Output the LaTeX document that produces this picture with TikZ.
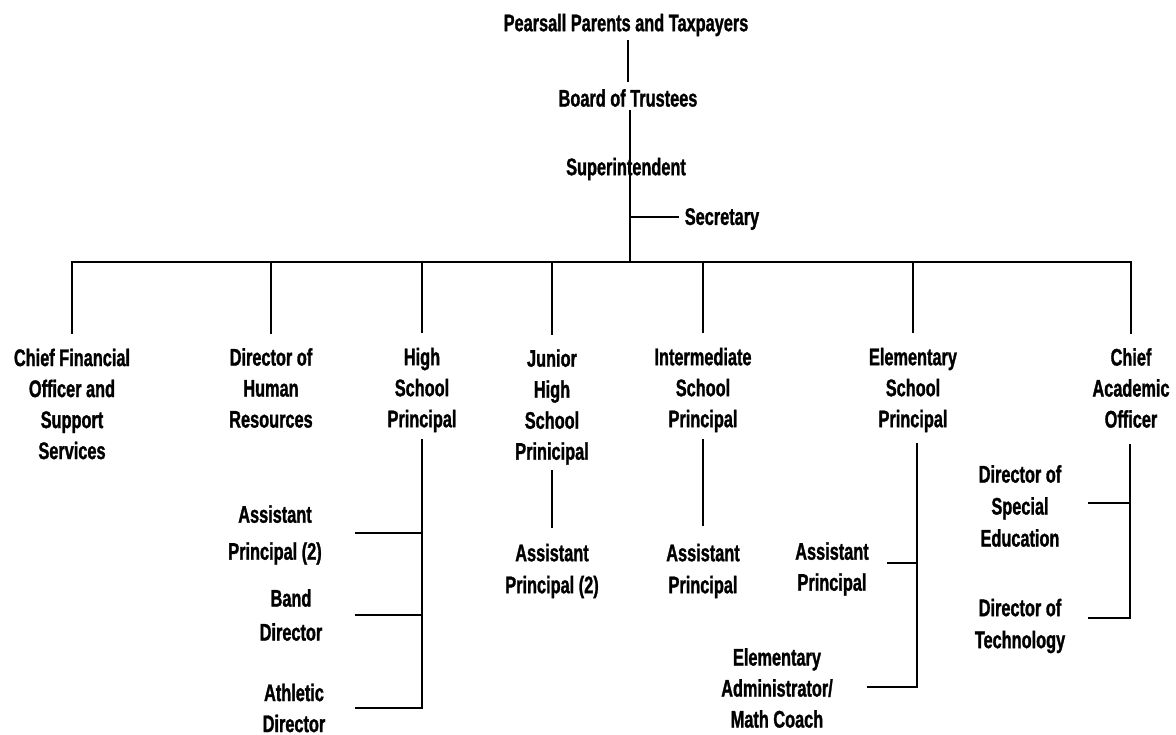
\documentclass[tikz,border=0pt]{standalone}
\usepackage{fontspec}
\newfontfamily\lab{Liberation Sans}[FakeStretch=0.68,FakeBold=1.2]
\begin{document}
\begin{tikzpicture}[x=1pt,y=-1pt,
  lbl/.style={inner sep=2pt, align=center, font=\lab\bfseries\fontsize{24}{31}\selectfont},
  ln/.style={line width=1.4pt, line cap=rect}]
\useasboundingbox (0,0) rectangle (1176,735);
% top chain
\node[lbl] (pp) at (626,25) {Pearsall Parents and Taxpayers};
\node[lbl] (bt) at (628,98) {Board of Trustees};
\node[lbl] (su) at (626,169) {Superintendent};
\node[lbl] (se) at (722,219) {Secretary};
\coordinate (busc) at (630,262);
\coordinate (busl) at (72,262);
\coordinate (busr) at (1131,262);
\coordinate (secj) at (630,217);
% first row
\node[lbl] (cfo) at (72,404) {Chief Financial\\Officer and\\Support\\Services};
\node[lbl] (hr) at (271,388) {Director of\\Human\\Resources};
\node[lbl] (hs) at (422,390) {High\\School\\Principal};
\node[lbl] (jh) at (552,407) {Junior\\High\\School\\Prinicipal};
\node[lbl] (im) at (703,390) {Intermediate\\School\\Principal};
\node[lbl] (el) at (913,390) {Elementary\\School\\Principal};
\node[lbl] (ca) at (1131,388) {Chief\\Academic\\Officer};
% second level
\node[lbl, font=\lab\bfseries\fontsize{24}{37}\selectfont] (hsap) at (275,535) {Assistant\\Principal (2)};
\node[lbl, font=\lab\bfseries\fontsize{24}{34}\selectfont] (hsbd) at (291,615) {Band\\Director};
\node[lbl] (hsad) at (294,708) {Athletic\\Director};
\node[lbl, font=\lab\bfseries\fontsize{24}{32}\selectfont] (jhap) at (552,571) {Assistant\\Principal (2)};
\node[lbl, font=\lab\bfseries\fontsize{24}{32}\selectfont] (imap) at (703,571) {Assistant\\Principal};
\node[lbl] (elap) at (832,569) {Assistant\\Principal};
\node[lbl] (elad) at (777,688) {Elementary\\Administrator/\\Math Coach};
\node[lbl, font=\lab\bfseries\fontsize{24}{32}\selectfont] (dse) at (1020,506) {Director of\\Special\\Education};
\node[lbl, font=\lab\bfseries\fontsize{24}{32}\selectfont] (dt) at (1020,626) {Director of\\Technology};
% junction coordinates
\coordinate (hsv) at (422,708);
\coordinate (hsj1) at (422,533);
\coordinate (hsj2) at (422,615);
\coordinate (hse1) at (356,533);
\coordinate (hse2) at (356,615);
\coordinate (hse3) at (356,708);
\coordinate (elv) at (917,444);
\coordinate (elj1) at (917,563);
\coordinate (elj2) at (917,687);
\coordinate (ele1) at (888,563);
\coordinate (ele2) at (868,687);
\coordinate (cav) at (1130,445);
\coordinate (caj1) at (1130,503);
\coordinate (caj2) at (1130,618);
\coordinate (cae1) at (1089,503);
\coordinate (cae2) at (1089,618);
% connectors
\draw[ln] ([yshift=-2pt]pp.south -| bt.north) -- ([yshift=6pt]bt.north);
\draw[ln] ([yshift=-2pt]bt.south -| busc) -- (busc);
\draw[ln] (secj) -- ([xshift=-4pt]se.west |- secj);
\draw[ln] (busl) -- (busr);
\foreach \n in {cfo,hr,hs,jh,im,el,ca}
  \draw[ln] (\n.north |- busc) -- ([yshift=13pt]\n.north);
% high school
\draw[ln] ([yshift=-5pt]hs.south) -- (hsv);
\draw[ln] (hsj1) -- (hse1);
\draw[ln] (hsj2) -- (hse2);
\draw[ln] (hsv) -- (hse3);
% junior high
\draw[ln] ([yshift=-4pt]jh.south) -- ([yshift=14pt]jhap.north);
% intermediate
\draw[ln] ([yshift=-5pt]im.south) -- ([yshift=16pt]imap.north);
% elementary
\draw[ln] (elv) -- (elj2);
\draw[ln] (elj1) -- (ele1);
\draw[ln] (elj2) -- (ele2);
% chief academic
\draw[ln] (cav) -- (caj2);
\draw[ln] (caj1) -- (cae1);
\draw[ln] (caj2) -- (cae2);
\end{tikzpicture}
\end{document}
